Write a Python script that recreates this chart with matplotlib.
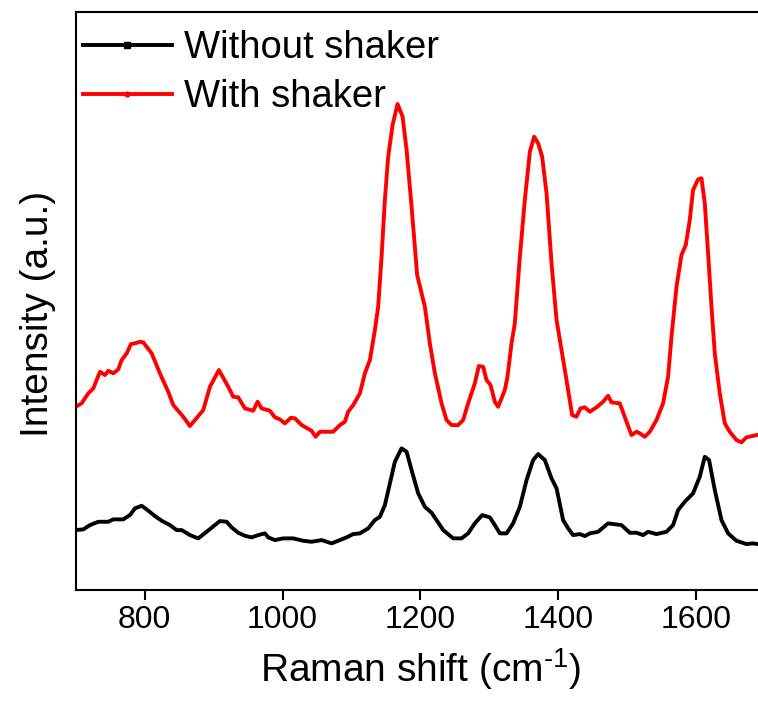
import numpy as np
import matplotlib.pyplot as plt
from matplotlib.lines import Line2D

plt.rcParams['font.family'] = ['Liberation Sans', 'DejaVu Sans']
plt.rcParams['mathtext.fontset'] = 'custom'
plt.rcParams['mathtext.rm'] = 'Liberation Sans'
plt.rcParams['mathtext.default'] = 'regular'

# red curve: with shaker
shift_with = [700, 708.8, 718.4, 725.7, 735.4, 742.6, 747.4, 754.6, 761.9, 766.8,
              774.1, 780.3, 786.1, 793.3, 798.1, 810.3, 822.3, 834.3, 841.6, 856.1,
              865.8, 873.0, 885.1, 894.8, 907.8, 921.3, 928.6, 935.8, 945.5, 957.5,
              963.9, 969.7, 981.7, 989.0, 996.2, 1003.5, 1012.2, 1018.0, 1027.7, 1042.2,
              1048.0, 1054.2, 1061.4, 1073.5, 1083.2, 1090.4, 1095.2, 1102.5, 1112.2, 1119.4,
              1126.7, 1133.9, 1138.7, 1143.6, 1148.4, 1153.2, 1159.6, 1166.8, 1174.1, 1179.9,
              1187.1, 1195.2, 1206.4, 1213.6, 1220.9, 1230.6, 1237.8, 1245.1, 1254.6, 1261.9,
              1269.1, 1278.8, 1284.6, 1290.9, 1295.8, 1301.6, 1307.8, 1312.6, 1322.3, 1326.2,
              1332.0, 1336.8, 1344.1, 1351.3, 1358.6, 1364.8, 1370.6, 1376.4, 1382.8, 1390.0,
              1397.3, 1404.5, 1411.7, 1419.9, 1426.2, 1432.0, 1438.3, 1445.5, 1455.2, 1464.8,
              1472.0, 1476.9, 1489.0, 1498.7, 1505.9, 1513.2, 1518.0, 1525.2, 1532.5, 1542.2,
              1551.7, 1559.0, 1563.9, 1571.2, 1578.4, 1584.6, 1590.4, 1595.2, 1602.5, 1607.4,
              1612.2, 1617.0, 1621.9, 1626.7, 1633.9, 1641.2, 1648.4, 1658.1, 1665.4, 1672.6,
              1687.1]
int_with = [183.3, 186.7, 196.7, 201.7, 218.3, 215, 219.3, 216.7, 220.7, 230,
            236.7, 246, 246.7, 248.3, 247.7, 236.7, 216.7, 198.3, 185, 173.3,
            164, 170, 180, 203.3, 220, 203.3, 193.3, 192.7, 181.7, 179.3,
            188.3, 181.7, 179.3, 172.7, 170.7, 166.7, 172.3, 171.7, 165, 159.3,
            153.3, 158.3, 158.3, 158.3, 165, 168.3, 178.3, 185, 196.7, 216.7,
            230, 260, 283.3, 333.3, 390, 433.3, 465, 486, 473.3, 440,
            383.3, 315, 283.3, 246.7, 216.7, 186.7, 170, 165, 165, 170,
            186.7, 206.7, 224, 223.3, 210, 205, 188.3, 183.3, 200, 213.3,
            246.7, 266.7, 333.3, 390, 438.3, 453.3, 446.7, 433.3, 396.7, 326.7,
            270, 240, 210, 175, 173.3, 181.7, 182.7, 178.3, 182.7, 188.3,
            194.3, 187.7, 186.7, 168.3, 155, 158.3, 156.7, 153.3, 158.3, 170,
            186.7, 213.3, 253.3, 303.3, 335, 345, 370, 400, 410.7, 411.7,
            386.7, 336.7, 283.3, 236.7, 196.7, 166.7, 158.3, 150, 147.7, 152.7,
            155]

# black curve: without shaker
shift_without = [700, 711.2, 720.9, 732.9, 747.4, 754.6, 769.1, 778.8, 786.1, 795.8,
                 803.0, 815.1, 824.8, 836.8, 846.5, 853.8, 865.8, 877.8, 890.0, 902.0,
                 909.3, 919.0, 926.2, 935.8, 945.5, 955.2, 964.8, 974.5, 979.3, 989.0,
                 1001.0, 1015.5, 1030.0, 1042.2, 1056.7, 1071.2, 1083.2, 1092.9, 1102.5, 1112.2,
                 1124.2, 1133.9, 1141.2, 1148.4, 1155.7, 1162.9, 1172.6, 1179.9, 1187.1, 1196.7,
                 1206.4, 1216.1, 1223.3, 1233.0, 1247.4, 1259.6, 1269.1, 1278.8, 1289.4, 1300.6,
                 1307.8, 1315.1, 1324.8, 1334.3, 1344.1, 1353.8, 1363.3, 1370.6, 1380.3, 1390.0,
                 1397.3, 1406.8, 1414.1, 1421.3, 1431.0, 1438.3, 1445.5, 1457.5, 1472.0, 1491.4,
                 1503.5, 1513.2, 1522.8, 1530.0, 1542.2, 1556.7, 1566.2, 1573.5, 1583.2, 1595.2,
                 1604.9, 1612.2, 1618.4, 1626.7, 1636.4, 1646.0, 1658.1, 1672.6, 1682.2, 1688.6]
int_without = [60, 60.7, 65, 68.3, 68.3, 70.7, 70.7, 75, 81.7, 84.3,
               80.7, 74, 69.3, 65, 60, 60, 55, 51.7, 58.3, 65,
               69, 68.3, 62.7, 57.3, 54.3, 52.7, 55, 56.7, 52.7, 50,
               51.7, 51.7, 49.3, 48.3, 50, 46.7, 50, 52.7, 56, 56.7,
               61.7, 70, 73.3, 85, 106.7, 128.3, 141.7, 138.3, 120, 96.7,
               83.3, 77.3, 70, 60, 51.7, 51.7, 56.7, 66.7, 75, 72.7,
               65, 56.7, 56.7, 66.7, 83.3, 110, 130, 136, 130, 111.7,
               101.7, 70, 61.7, 55, 56, 54, 56.7, 58.3, 66.7, 65,
               57.3, 57.3, 55, 58.3, 56, 58.3, 65, 80, 88.3, 96.7,
               113.3, 133.3, 130, 100, 70, 56.7, 49.3, 46, 46.7, 46]

xticks = [800, 1000, 1200, 1400, 1600]

fig = plt.figure(figsize=(7.58, 7.05), dpi=100)
ax = fig.add_axes([0.0997, 0.163, 0.910, 0.820])

ax.plot(shift_without, int_without, color='black', lw=2.8, solid_joinstyle='round')
ax.plot(shift_with, int_with, color='#ff0000', lw=2.8, solid_joinstyle='round')

ax.set_xlim(700, 1700)
ax.set_ylim(0, 578)
ax.set_xticks(xticks)
ax.set_yticks([])
ax.tick_params(axis='x', direction='out', length=7, width=1.5, labelsize=23, pad=4)
for s in ax.spines.values():
    s.set_linewidth(1.5)

ax.set_xlabel(r'Raman shift (cm$^{\text{-}1}$)', fontsize=28, labelpad=8)
ax.set_ylabel('Intensity (a.u.)', fontsize=28)
ax.yaxis.set_label_coords(-0.028, 0.478)

handles = [Line2D([], [], color='black', lw=2.8, marker='s', markersize=4),
           Line2D([], [], color='#ff0000', lw=2.8, marker='o', markersize=3.5)]
ax.legend(handles, ['Without shaker', 'With shaker'], loc='upper left',
          bbox_to_anchor=(-0.012, 0.995), frameon=False, fontsize=27.5,
          handlelength=2.35, handletextpad=0.3, labelspacing=0.34,
          borderaxespad=0.2, borderpad=0.2, numpoints=1)

fig.savefig('out.png', dpi=100)
